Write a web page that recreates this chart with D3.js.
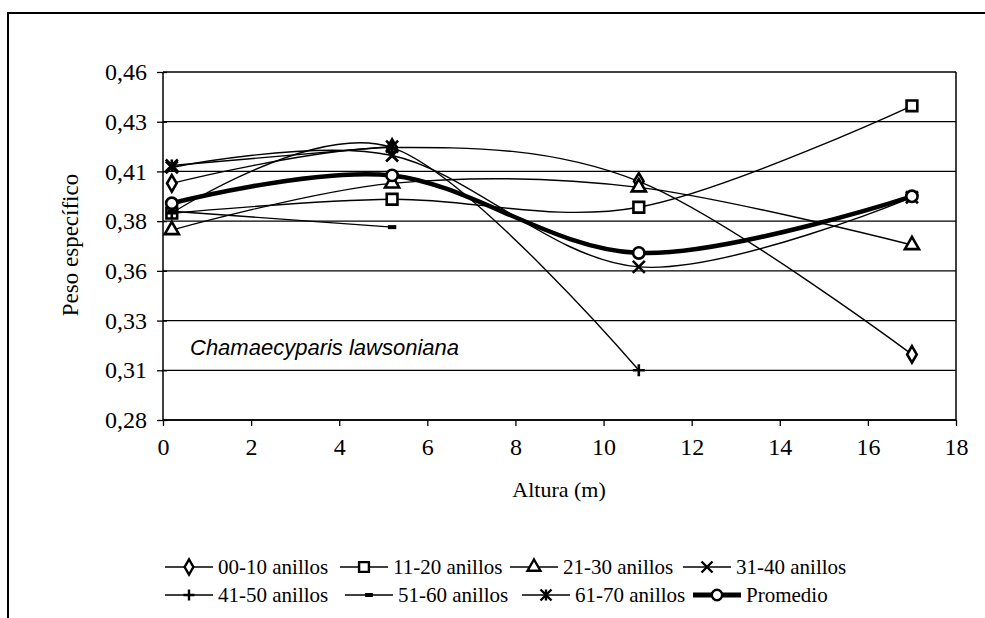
<!DOCTYPE html>
<html>
<head>
<meta charset="utf-8">
<script src="https://cdn.jsdelivr.net/npm/d3@7"></script>
<style>
    body { margin: 0; background: #fff; }
    text { font-family: "Liberation Serif", "Times New Roman", serif; fill: #000; }
</style>
</head>
<body>
<div id="chart"></div>
<script>
// heights (m) where the samples were taken
var alturas = [0.2, 5.2, 10.8, 17.0];

// peso especifico per ring group
var anillos0010 = [0.399, 0.417, 0.400, 0.313];
var anillos1120 = [0.384, 0.391, 0.387, 0.438];
var anillos2130 = [0.3755, 0.399, 0.397, 0.368];
var anillos3140 = [0.407, 0.413, 0.357, 0.392];
var anillos4150 = [0.384, 0.417, 0.305];
var anillos5160 = [0.385, 0.377];
var anillos6170 = [0.408, 0.4175];
var promedio = [0.389, 0.403, 0.364, 0.3925];

var seriesNames = ["00-10 anillos", "11-20 anillos", "21-30 anillos", "31-40 anillos",
    "41-50 anillos", "51-60 anillos", "61-70 anillos", "Promedio"];

var yTicks = [0.28, 0.305, 0.33, 0.355, 0.38, 0.405, 0.43, 0.455];
var yTickLabels = ["0,28", "0,31", "0,33", "0,36", "0,38", "0,41", "0,43", "0,46"];
var xTicks = [0, 2, 4, 6, 8, 10, 12, 14, 16, 18];

var width = 985, height = 618;
var plot = {left: 163, right: 956, top: 72, bottom: 420};
var serif = "'Liberation Serif', 'Times New Roman', serif";

var svg = d3.select("#chart").append("svg")
    .attr("width", width)
    .attr("height", height);

svg.append("rect").attr("width", width).attr("height", height).attr("fill", "#fff");

// outer frame (only top and left edges show in the scan)
svg.append("path")
    .attr("d", "M8,618V13H985")
    .attr("fill", "none")
    .attr("stroke", "#000")
    .attr("stroke-width", 2);

var x = d3.scaleLinear().domain([0, 18]).range([plot.left, plot.right]);
var y = d3.scaleLinear().domain([0.28, 0.455]).range([plot.bottom, plot.top]);

// gridlines
svg.append("g")
    .selectAll("line")
    .data(yTicks)
    .enter().append("line")
    .attr("x1", plot.left)
    .attr("x2", plot.right)
    .attr("y1", function (d) { return y(d); })
    .attr("y2", function (d) { return y(d); })
    .attr("stroke", "#000")
    .attr("stroke-width", 1.3);

// right border of plot area
svg.append("line")
    .attr("x1", plot.right).attr("x2", plot.right)
    .attr("y1", plot.top).attr("y2", plot.bottom)
    .attr("stroke", "#000").attr("stroke-width", 1.5);

// y axis
var yAxis = svg.append("g")
    .attr("transform", "translate(" + plot.left + ",0)")
    .call(d3.axisLeft(y).tickValues(yTicks).tickSize(6).tickPadding(10)
        .tickFormat(function (d, i) { return yTickLabels[i]; }));
yAxis.attr("font-family", serif).attr("font-size", 24);
yAxis.select(".domain").remove();
yAxis.append("line").attr("y1", plot.top).attr("y2", plot.bottom)
    .attr("stroke", "#000").attr("stroke-width", 1.5);
yAxis.selectAll(".tick line").attr("x2", -6).attr("x1", 4).attr("stroke-width", 1.3);
yAxis.selectAll("text").attr("fill", "#000");

// x axis
var xAxis = svg.append("g")
    .attr("transform", "translate(0," + plot.bottom + ")")
    .call(d3.axisBottom(x).tickValues(xTicks).tickSize(6).tickPadding(12));
xAxis.attr("font-family", serif).attr("font-size", 24);
xAxis.select(".domain").remove();
xAxis.append("line").attr("x1", plot.left).attr("x2", plot.right)
    .attr("stroke", "#000").attr("stroke-width", 1.5);
xAxis.selectAll(".tick line").attr("stroke-width", 1.3);
xAxis.selectAll("text").attr("fill", "#000");

// axis titles
svg.append("text")
    .attr("transform", "translate(78,245) rotate(-90)")
    .attr("text-anchor", "middle")
    .style("font-size", "23px")
    .text("Peso específico");

svg.append("text")
    .attr("x", 559)
    .attr("y", 497)
    .attr("text-anchor", "middle")
    .style("font-size", "22px")
    .text("Altura (m)");

svg.append("text")
    .attr("x", 190)
    .attr("y", 355)
    .style("font-family", "'Liberation Sans', Arial, sans-serif")
    .style("font-style", "italic")
    .style("font-size", "22px")
    .text("Chamaecyparis lawsoniana");

// markers
function markerPath(kind, s) {
    var h = s / 2;
    switch (kind) {
        case "diamond": return d3.symbol().type(d3.symbolDiamond).size(s * s * 0.55)();
        case "square": return d3.symbol().type(d3.symbolSquare).size(s * s * 0.8)();
        case "triangle": return d3.symbol().type(d3.symbolTriangle).size(s * s * 0.6)();
        case "circle": return d3.symbol().type(d3.symbolCircle).size(s * s * 0.7)();
        case "x": return "M" + (-h) + "," + (-h) + "L" + h + "," + h + "M" + (-h) + "," + h + "L" + h + "," + (-h);
        case "plus": return "M" + (-h) + ",0L" + h + ",0M0," + (-h) + "L0," + h;
        case "star": return "M" + (-h) + "," + (-h) + "L" + h + "," + h + "M" + (-h) + "," + h + "L" + h + "," + (-h) +
            "M0," + (-h) + "L0," + h;
        case "dash": return "M" + (-h * 0.7) + ",0L" + (h * 0.7) + ",0";
    }
}

var series = [
    {name: seriesNames[0], values: anillos0010, marker: "diamond", fill: "#fff", width: 1.4},
    {name: seriesNames[1], values: anillos1120, marker: "square", fill: "#fff", width: 1.4},
    {name: seriesNames[2], values: anillos2130, marker: "triangle", fill: "#fff", width: 1.4},
    {name: seriesNames[3], values: anillos3140, marker: "x", fill: "none", width: 1.4},
    {name: seriesNames[4], values: anillos4150, marker: "plus", fill: "none", width: 1.4},
    {name: seriesNames[5], values: anillos5160, marker: "dash", fill: "none", width: 1.4},
    {name: seriesNames[6], values: anillos6170, marker: "star", fill: "none", width: 1.4},
    {name: seriesNames[7], values: promedio, marker: "circle", fill: "#fff", width: 4.5}
];

var line = d3.line()
    .x(function (d) { return x(d[0]); })
    .y(function (d) { return y(d[1]); })
    .curve(d3.curveCardinal.tension(0));

series.forEach(function (s) {
    var pts = s.values.map(function (v, i) { return [alturas[i], v]; });
    var g = svg.append("g").attr("class", "serie");
    g.append("path")
        .attr("d", line(pts))
        .attr("fill", "none")
        .attr("stroke", "#000")
        .attr("stroke-width", s.width);
    g.selectAll(".mk")
        .data(pts)
        .enter().append("path")
        .attr("class", "mk")
        .attr("transform", function (d) { return "translate(" + x(d[0]) + "," + y(d[1]) + ")"; })
        .attr("d", markerPath(s.marker, 12))
        .attr("fill", s.fill)
        .attr("stroke", "#000")
        .attr("stroke-width", s.marker === "dash" ? 4 : 2.6);
});

// legend
var legendPos = [
    [165, 567], [340, 567], [510, 567], [683, 567],
    [165, 595], [345, 595], [522, 595], [693, 595]
];

var legend = svg.append("g").attr("class", "legend");
series.forEach(function (s, i) {
    var item = legend.append("g")
        .attr("transform", "translate(" + legendPos[i][0] + "," + legendPos[i][1] + ")");
    item.append("line")
        .attr("x1", 0).attr("x2", 48)
        .attr("stroke", "#000")
        .attr("stroke-width", s.marker === "circle" ? 5 : 1.5);
    item.append("path")
        .attr("transform", "translate(24,0)")
        .attr("d", markerPath(s.marker, 11))
        .attr("fill", s.fill)
        .attr("stroke", "#000")
        .attr("stroke-width", s.marker === "dash" ? 4 : 2.4);
    item.append("text")
        .attr("x", 53)
        .attr("y", 7)
        .style("font-size", "21px")
        .text(s.name);
});
</script>
</body>
</html>
